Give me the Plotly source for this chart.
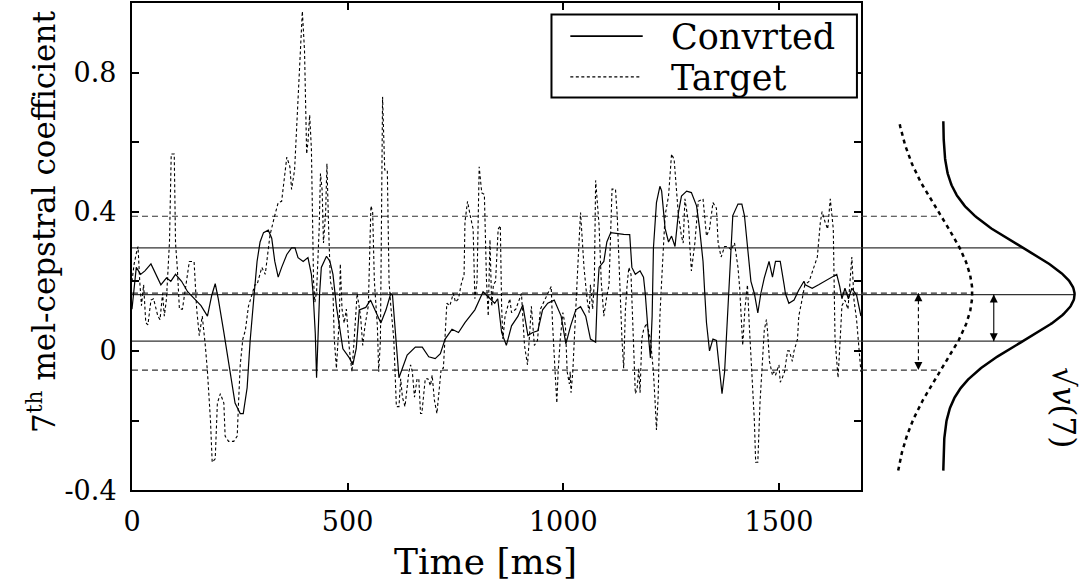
import numpy as np
import plotly.graph_objects as go

# ---------------- data ----------------
conv_t = [0, 6, 10, 20, 30, 44, 55, 67, 80, 90, 101, 115, 129, 145, 160, 175, 185, 193, 200, 213,
          228, 239, 251, 258, 267, 274, 282, 290, 297, 305, 316, 324, 331, 339, 347, 359, 370, 378,
          385, 397, 408, 416, 420, 425, 428, 431, 435, 439, 451, 459, 466, 469, 474, 489, 504, 512,
          520, 527, 542, 553, 566, 577, 589, 600, 604, 612, 619, 627, 638, 657, 673, 688, 703, 715,
          726, 742, 757, 772, 795, 814, 826, 841, 848, 857, 868, 880, 895, 906, 918, 929, 941, 952,
          964, 979, 995, 1006, 1017, 1029, 1040, 1052, 1063, 1075, 1079, 1083, 1094, 1101, 1110,
          1125, 1140, 1154, 1159, 1167, 1178, 1186, 1190, 1198, 1202, 1206, 1209, 1216, 1224, 1228,
          1236, 1244, 1251, 1259, 1267, 1274, 1286, 1297, 1309, 1316, 1324, 1328, 1332, 1339, 1347,
          1355, 1362, 1368, 1374, 1378, 1385, 1389, 1393, 1405, 1414, 1420, 1427, 1435, 1443, 1451,
          1458, 1466, 1477, 1485, 1492, 1503, 1512, 1515, 1523, 1535, 1546, 1558, 1561, 1577, 1592,
          1607, 1623, 1634, 1641, 1646, 1653, 1661, 1669, 1680, 1690]
conv_v = [0.12, 0.19, 0.24, 0.22, 0.23, 0.25, 0.22, 0.19, 0.21, 0.20, 0.22, 0.20, 0.17, 0.15, 0.13,
          0.10, 0.16, 0.193, 0.15, 0.053, -0.06, -0.15, -0.18, -0.18, -0.106, 0.03, 0.145, 0.257,
          0.313, 0.34, 0.347, 0.324, 0.258, 0.212, 0.24, 0.277, 0.296, 0.296, 0.268, 0.257, 0.268,
          0.22, 0.165, 0.05, -0.077, 0.05, 0.165, 0.24, 0.272, 0.257, 0.22, 0.185, 0.128, 0.006,
          -0.02, -0.04, 0.007, 0.118, 0.125, 0.146, 0.109, 0.08, 0.118, 0.165, 0.16, 0.034, -0.077,
          -0.05, -0.012, 0.011, 0.011, -0.017, -0.022, -0.008, 0.034, 0.062, 0.053, 0.081, 0.118,
          0.17, 0.155, 0.137, 0.15, 0.053, 0.016, 0.072, 0.10, 0.132, 0.044, 0.053, 0.058, 0.118,
          0.137, 0.146, 0.10, 0.02, 0.072, 0.118, 0.127, 0.10, 0.034, 0.025, 0.165, 0.24, 0.257,
          0.313, 0.34, 0.337, 0.335, 0.334, 0.24, 0.22, 0.23, 0.212, 0.165, 0.034, -0.02, 0.10,
          0.296, 0.426, 0.473, 0.46, 0.352, 0.313, 0.33, 0.30, 0.398, 0.445, 0.459, 0.455, 0.417,
          0.352, 0.257, 0.165, 0.081, 0.0, 0.034, 0.03, -0.06, -0.123, -0.06, 0.034, 0.185, 0.30,
          0.389, 0.422, 0.422, 0.389, 0.296, 0.20, 0.165, 0.109, 0.165, 0.21, 0.257, 0.212, 0.257,
          0.257, 0.19, 0.165, 0.137, 0.146, 0.175, 0.20, 0.19, 0.18, 0.19, 0.20, 0.212, 0.22, 0.185,
          0.15, 0.18, 0.15, 0.18, 0.16, 0.10]

tgt_t = [0, 5, 10, 14, 18, 22, 27, 32, 37, 44, 50, 60, 65, 71, 75, 80, 87, 91, 98, 101, 105, 110,
         117, 125, 133, 144, 150, 156, 163, 170, 175, 182, 186, 193, 198, 205, 213, 216, 224, 236,
         244, 247, 251, 257, 263, 270, 278, 285, 290, 301, 309, 320, 331, 339, 347, 359, 366, 370,
         377, 385, 389, 395, 400, 405, 408, 412, 416, 418, 421, 424, 428, 434, 437, 441, 444, 449,
         452, 456, 460, 466, 469, 474, 477, 481, 483, 487, 492, 497, 504, 510, 515, 522, 530, 535,
         540, 548, 554, 558, 562, 569, 572, 576, 581, 586, 592, 596, 600, 607, 613, 619, 623, 627,
         633, 638, 642, 646, 650, 655, 661, 665, 669, 672, 676, 680, 686, 692, 696, 701, 707, 711,
         717, 722, 726, 730, 737, 745, 750, 757, 763, 770, 772, 778, 784, 791, 795, 800, 805, 811,
         817, 822, 826, 830, 834, 838, 843, 849, 854, 857, 860, 865, 876, 880, 890, 903, 910, 917,
         922, 926, 933, 940, 947, 956, 966, 972, 975, 981, 985, 988, 993, 999, 1005, 1009, 1014,
         1016, 1018, 1022, 1027, 1032, 1036, 1040, 1048, 1055, 1060, 1063, 1068, 1072, 1075, 1080,
         1083, 1088, 1094, 1100, 1106, 1113, 1121, 1125, 1130, 1136, 1140, 1144, 1148, 1152, 1157,
         1162, 1167, 1171, 1175, 1178, 1182, 1186, 1193, 1202, 1209, 1213, 1216, 1220, 1224, 1228,
         1236, 1244, 1251, 1257, 1261, 1267, 1274, 1278, 1282, 1290, 1297, 1305, 1313, 1324, 1332,
         1339, 1347, 1355, 1359, 1366, 1374, 1382, 1389, 1397, 1405, 1409, 1412, 1416, 1421, 1427,
         1431, 1437, 1443, 1446, 1451, 1456, 1462, 1466, 1471, 1474, 1478, 1485, 1488, 1492, 1500,
         1503, 1507, 1513, 1520, 1524, 1531, 1535, 1543, 1546, 1554, 1560, 1570, 1581, 1589, 1596,
         1600, 1607, 1613, 1619, 1622, 1626, 1630, 1637, 1642, 1646, 1653, 1660, 1669, 1674, 1680,
         1690]
tgt_v = [0.20, 0.25, 0.28, 0.30, 0.20, 0.13, 0.19, 0.081, 0.075, 0.146, 0.15, 0.10, 0.09, 0.165,
         0.10, 0.15, 0.314, 0.566, 0.566, 0.31, 0.24, 0.12, 0.12, 0.19, 0.257, 0.257, 0.12, 0.044,
         0.10, 0.016, -0.06, -0.20, -0.32, -0.31, -0.15, -0.123, -0.15, -0.245, -0.26, -0.26, -0.245,
         -0.15, -0.04, 0.034, 0.06, 0.128, 0.165, 0.19, 0.19, 0.24, 0.22, 0.333, 0.389, 0.426, 0.43,
         0.557, 0.53, 0.464, 0.52, 0.724, 0.80, 0.976, 0.864, 0.566, 0.60, 0.678, 0.58, 0.44, 0.20,
         0.14, 0.17, 0.352, 0.51, 0.46, 0.31, 0.398, 0.538, 0.35, 0.20, 0.17, 0.034, -0.05, 0.03,
         0.10, 0.25, 0.12, 0.08, 0.12, 0.006, -0.06, 0.03, 0.165, 0.10, 0.016, 0.07, 0.13, 0.417,
         0.40, 0.20, 0.07, -0.06, 0.03, 0.73, 0.52, 0.52, 0.20, 0.13, 0.034, -0.16, -0.16, -0.08,
         -0.133, -0.16, -0.10, -0.06, -0.04, -0.06, -0.133, -0.08, -0.08, -0.18, -0.18, -0.13,
         -0.08, -0.08, -0.10, -0.07, -0.14, -0.18, -0.12, -0.05, -0.05, 0.053, 0.137, 0.13, 0.165,
         0.14, 0.15, 0.19, 0.22, 0.37, 0.43, 0.39, 0.35, 0.15, 0.20, 0.529, 0.454, 0.45, 0.20, 0.10,
         0.32, 0.128, 0.19, 0.20, 0.35, 0.36, 0.128, 0.034, 0.10, 0.15, 0.11, 0.12, 0.165, 0.016,
         -0.04, 0.05, 0.128, 0.016, 0.03, 0.12, 0.146, 0.17, 0.185, 0.08, -0.06, -0.15, -0.06,
         0.034, 0.11, 0.07, -0.06, -0.095, -0.06, -0.12, -0.06, 0.053, 0.20, 0.30, 0.398, 0.24,
         0.15, 0.11, 0.19, 0.12, 0.20, 0.49, 0.42, 0.36, 0.20, 0.10, 0.15, 0.19, 0.465, 0.465,
         0.39, 0.20, 0.034, -0.05, 0.118, 0.19, 0.24, 0.22, 0.04, -0.123, -0.11, -0.05, -0.12,
         0.034, 0.06, 0.08, 0.034, -0.06, -0.15, -0.227, -0.13, 0.10, 0.20, 0.389, 0.445, 0.566,
         0.55, 0.49, 0.389, 0.33, 0.31, 0.437, 0.37, 0.23, 0.31, 0.43, 0.437, 0.33, 0.35, 0.426,
         0.41, 0.31, 0.27, 0.30, 0.30, 0.29, 0.31, 0.24, 0.18, 0.109, 0.016, 0.12, 0.19, 0.08,
         -0.06, -0.20, -0.32, -0.32, -0.15, -0.02, 0.06, 0.09, 0.05, -0.03, -0.07, -0.06, -0.07,
         -0.04, -0.09, -0.08, -0.06, 0.0, 0.0, -0.03, 0.0, 0.034, 0.10, 0.15, 0.19, 0.20, 0.24,
         0.27, 0.37, 0.40, 0.37, 0.35, 0.437, 0.39, 0.35, 0.034, -0.077, 0.034, 0.13, 0.146, 0.12,
         0.27, 0.146, 0.09, -0.06]

# mean and standard deviation
conv_mean, conv_std = 0.162, 0.134
tgt_mean, tgt_std = 0.166, 0.221

x_ticks = [0, 500, 1000, 1500]
y_ticks = [-0.4, 0, 0.4, 0.8]
y_tick_text = ["-0.4", "0", "0.4", "0.8"]
y_minor_ticks = [-0.2, 0.2, 0.6]

# ---------------- layout constants ----------------
W, H = 1089, 585
FONT = "DejaVu Serif"
def px(x):
    return x / W
def py(y):
    return 1 - y / H

X_RANGE = [0, 1690]
Y_RANGE = [-0.4, 1.0]
X2_RANGE = [-0.719, 4.45]       # density units of the side panel
conv_offset = 1.146             # horizontal shift of the converted distribution
gauss_y = np.linspace(-0.344, 0.66, 300)
tgt_arrow_x = 0.584
conv_arrow_x = conv_offset + 1.146


def pdf(y, m, s):
    return np.exp(-0.5 * ((y - m) / s) ** 2) / (s * np.sqrt(2 * np.pi))


fig = go.Figure()

# horizontal reference lines inside the main axes and across to the distributions
for m, s, off, dash in [(conv_mean, conv_std, conv_offset, None),
                        (tgt_mean, tgt_std, 0.0, "6px,4px")]:
    for lev in [m + s, m, m - s]:
        fig.add_trace(go.Scatter(x=X_RANGE, y=[lev, lev], mode="lines",
                                 line=dict(color="#333333", width=1.2, dash=dash),
                                 xaxis="x", yaxis="y", showlegend=False, hoverinfo="skip"))
        fig.add_trace(go.Scatter(x=[X2_RANGE[0], off + pdf(lev, m, s)], y=[lev, lev], mode="lines",
                                 line=dict(color="#333333", width=1.2, dash=dash),
                                 xaxis="x2", yaxis="y", showlegend=False, hoverinfo="skip"))

# time series
fig.add_trace(go.Scatter(x=tgt_t, y=tgt_v, mode="lines", name="Target",
                         line=dict(color="black", width=1.1, dash="3px,2.5px"),
                         xaxis="x", yaxis="y", showlegend=False))
fig.add_trace(go.Scatter(x=conv_t, y=conv_v, mode="lines", name="Convrted",
                         line=dict(color="black", width=1.2),
                         xaxis="x", yaxis="y", showlegend=False))

# distributions on the right
fig.add_trace(go.Scatter(x=pdf(gauss_y, tgt_mean, tgt_std), y=gauss_y, mode="lines",
                         line=dict(color="black", width=2.5, dash="4px,4px"),
                         xaxis="x2", yaxis="y", showlegend=False, hoverinfo="skip"))
fig.add_trace(go.Scatter(x=conv_offset + pdf(gauss_y, conv_mean, conv_std), y=gauss_y, mode="lines",
                         line=dict(color="black", width=2.5),
                         xaxis="x2", yaxis="y", showlegend=False, hoverinfo="skip"))

# standard-deviation arrows
for ax_x, m, s, dash in [(tgt_arrow_x, tgt_mean, tgt_std, "4px,3px"),
                         (conv_arrow_x, conv_mean, conv_std, None)]:
    fig.add_trace(go.Scatter(x=[ax_x, ax_x], y=[m, m - s], mode="lines+markers",
                             line=dict(color="black", width=1.1, dash=dash),
                             marker=dict(symbol=["arrow-up", "arrow-down"], size=8, color="black",
                                         line=dict(width=0)),
                             xaxis="x2", yaxis="y", showlegend=False, hoverinfo="skip"))

annotations = []
# axis titles and side label
annotations.append(dict(x=px(480), y=py(576), xref="paper", yref="paper", text="Time [ms]",
                        showarrow=False, font=dict(family=FONT, size=36, color="black"),
                        xanchor="center", yanchor="middle"))
annotations.append(dict(x=px(33), y=py(228), xref="paper", yref="paper",
                        text="7<sup>th</sup> mel-cepstral coefficient", textangle=-90,
                        showarrow=False, font=dict(family=FONT, size=31, color="black"),
                        xanchor="center", yanchor="middle"))
annotations.append(dict(x=px(1064), y=py(418), xref="paper", yref="paper",
                        text="\u221a<i>v</i>(7)", textangle=90,
                        showarrow=False, font=dict(family=FONT, size=31, color="black"),
                        xanchor="center", yanchor="middle"))

# legend (drawn manually so that the sample lines have the original length)
legend_font = dict(family=FONT, size=35, color="black")
annotations.append(dict(x=px(666), y=py(38), xref="paper", yref="paper", text="Convrted",
                        showarrow=False, font=legend_font, xanchor="left", yanchor="middle"))
annotations.append(dict(x=px(666), y=py(80), xref="paper", yref="paper", text="Target",
                        showarrow=False, font=legend_font, xanchor="left", yanchor="middle"))

shapes = [
    dict(type="rect", xref="paper", yref="paper", x0=px(547), x1=px(855), y0=py(15), y1=py(100),
         line=dict(color="black", width=2), fillcolor="white", layer="above"),
    dict(type="line", xref="paper", yref="paper", x0=px(566), x1=px(639), y0=py(37), y1=py(37),
         line=dict(color="black", width=1.8), layer="above"),
    dict(type="line", xref="paper", yref="paper", x0=px(566), x1=px(636), y0=py(79), y1=py(79),
         line=dict(color="black", width=1.3, dash="3px,2.5px"), layer="above"),
]

tick_font = dict(family=FONT, size=27, color="black")
fig.update_layout(
    width=W, height=H, autosize=False,
    margin=dict(l=0, r=0, t=0, b=0, pad=0),
    paper_bgcolor="white", plot_bgcolor="white",
    showlegend=False,
    xaxis=dict(domain=[px(124), px(859)], range=X_RANGE, tickvals=x_ticks,
               ticks="inside", ticklen=7, tickwidth=2, tickcolor="black",
               showline=True, linewidth=2, linecolor="black", mirror="ticks",
               showgrid=False, zeroline=False, tickfont=tick_font, ticklabelstandoff=6,
               anchor="y"),
    yaxis=dict(domain=[py(503), py(3)], range=Y_RANGE, tickvals=y_ticks, ticktext=y_tick_text,
               ticks="inside", ticklen=7, tickwidth=2, tickcolor="black",
               minor=dict(tickvals=y_minor_ticks, ticks="inside", ticklen=7, tickwidth=2,
                          tickcolor="black", showgrid=False),
               showline=True, linewidth=2, linecolor="black", mirror="ticks",
               showgrid=False, zeroline=False, tickfont=tick_font, ticklabelstandoff=8,
               anchor="x"),
    xaxis2=dict(domain=[px(859), 1.0], range=X2_RANGE, visible=False, anchor="y",
                showgrid=False, zeroline=False),
    annotations=annotations,
    shapes=shapes,
)

fig.write_html("out.html")
